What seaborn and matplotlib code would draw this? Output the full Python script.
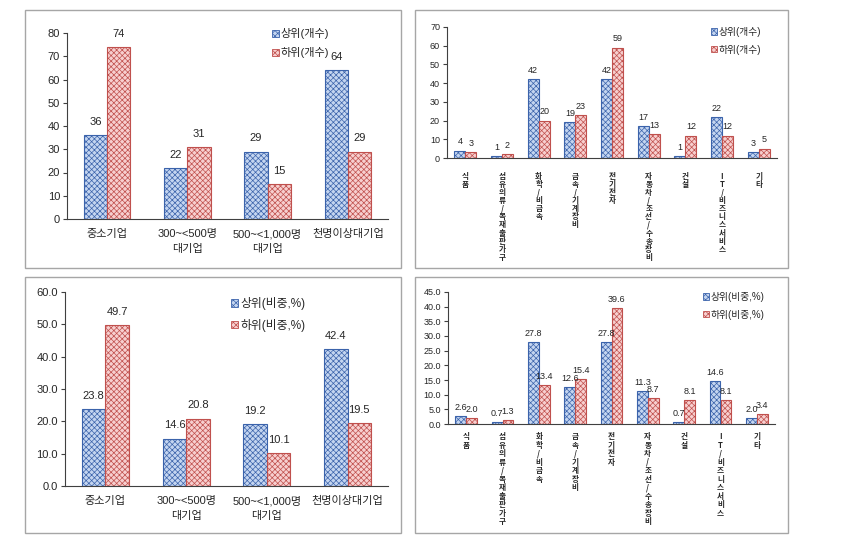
import matplotlib
matplotlib.use("Agg")
import numpy as np
import pandas as pd
import seaborn as sns
import matplotlib.pyplot as plt
from matplotlib.patches import Patch, Rectangle

# ---- data ----
size_groups = ["중소기업", "300~<500명\n대기업", "500~<1,000명\n대기업", "천명이상대기업"]
size_upper_cnt = [36, 22, 29, 64]
size_lower_cnt = [74, 31, 15, 29]
size_upper_pct = [23.8, 14.6, 19.2, 42.4]
size_lower_pct = [49.7, 20.8, 10.1, 19.5]

industries = ["식품", "섬유의류/목재출판가구", "화학/비금속", "금속/기계장비", "전기전자",
              "자동차/조선/수송장비", "건설", "IT/비즈니스서비스", "기타"]
ind_upper_cnt = [4, 1, 42, 19, 42, 17, 1, 22, 3]
ind_lower_cnt = [3, 2, 20, 23, 59, 13, 12, 12, 5]
ind_upper_pct = [2.6, 0.7, 27.8, 12.6, 27.8, 11.3, 0.7, 14.6, 2.0]
ind_lower_pct = [2.0, 1.3, 13.4, 15.4, 39.6, 8.7, 8.1, 8.1, 3.4]

cnt_labels = ["상위(개수)", "하위(개수)"]
pct_labels = ["상위(비중,%)", "하위(비중,%)"]

BLUE_FACE, BLUE_EDGE = "#C4D5F0", "#3B63AB"
RED_FACE, RED_EDGE = "#F7CFCF", "#C0504D"
HATCH = "xxxxxx"

sns.set_style("white")
plt.rcParams["font.family"] = ["Liberation Sans", "Noto Sans CJK KR", "DejaVu Sans"]
plt.rcParams["hatch.linewidth"] = 0.5

W, H = 844, 542
fig = plt.figure(figsize=(W / 100, H / 100), dpi=100)


def px_axes(x0, y0, x1, y1):
    return fig.add_axes([x0 / W, 1 - y1 / H, (x1 - x0) / W, (y1 - y0) / H])


def frame(x0, y0, x1, y1):
    fig.add_artist(Rectangle((x0 / W, 1 - y1 / H), (x1 - x0) / W, (y1 - y0) / H,
                             transform=fig.transFigure, fill=False,
                             edgecolor="#A6A6A6", lw=1.0))


def panel(ax, cats, upper, lower, names, ymax, ystep, fmt, fs, width, pad,
          leg_xy, leg_space, leg_fs, xfs, xpad, xspacing, xfamily):
    df = pd.DataFrame({
        "cat": cats * 2,
        "series": [names[0]] * len(cats) + [names[1]] * len(cats),
        "value": upper + lower,
    })
    sns.barplot(data=df, x="cat", y="value", hue="series", order=cats, hue_order=names,
                palette=[BLUE_FACE, RED_FACE], saturation=1, width=width,
                legend=False, ax=ax)
    for cont, edge, vals in zip(ax.containers, [BLUE_EDGE, RED_EDGE], [upper, lower]):
        for bar in cont:
            bar.set_edgecolor(edge)
            bar.set_hatch(HATCH)
            bar.set_linewidth(0.8)
        ax.bar_label(cont, labels=[fmt.format(v) for v in vals], padding=pad, fontsize=fs)

    n = len(cats)
    ax.set_xlim(-0.5, n - 0.5)
    ax.set_ylim(0, ymax)
    ticks = np.arange(0, ymax + ystep / 2, ystep)
    ax.set_yticks(ticks)
    ax.set_yticklabels([fmt.format(t) for t in ticks], fontsize=fs)
    ax.set_xticks(np.arange(-0.5, n, 1), minor=True)
    ax.tick_params(axis="x", which="major", length=0, labelsize=xfs, pad=xpad)
    ax.tick_params(axis="x", which="minor", length=4, direction="out", color="#404040", width=0.8)
    ax.tick_params(axis="y", length=3, direction="out", color="#404040", width=0.8, pad=2, left=True)
    for lab in ax.get_xticklabels():
        lab.set_linespacing(xspacing)
        if xfamily:
            lab.set_family(xfamily)
            lab.set_fontweight("bold")
    ax.set_xlabel("")
    ax.set_ylabel("")
    for s in ["top", "right"]:
        ax.spines[s].set_visible(False)
    for s in ["left", "bottom"]:
        ax.spines[s].set_color("#404040")
        ax.spines[s].set_linewidth(0.8)

    handles = [Patch(facecolor=BLUE_FACE, edgecolor=BLUE_EDGE, hatch=HATCH, lw=0.6),
               Patch(facecolor=RED_FACE, edgecolor=RED_EDGE, hatch=HATCH, lw=0.6)]
    ax.legend(handles, names, loc="upper left",
              bbox_to_anchor=(leg_xy[0] / W, 1 - leg_xy[1] / H),
              bbox_transform=fig.transFigure, frameon=False, fontsize=leg_fs,
              handlelength=0.6, handleheight=0.6, handletextpad=0.2,
              borderpad=0, borderaxespad=0, labelspacing=leg_space)


def stacked(labels):
    return ["\n".join(list(s)) for s in labels]


# panel frames
frame(25, 10, 401, 268)
frame(415, 10, 788, 268)
frame(25, 277, 401, 533)
frame(415, 277, 788, 533)

ax1 = px_axes(67, 33, 388, 219)
panel(ax1, size_groups, size_upper_cnt, size_lower_cnt, cnt_labels,
      80, 10, "{:.0f}", 8, 0.58, 6, (272, 28), 0.75, 8, 8, 7, 1.6, None)

ax2 = px_axes(447, 27, 777, 158)
panel(ax2, stacked(industries), ind_upper_cnt, ind_lower_cnt, cnt_labels,
      70, 10, "{:.0f}", 6.5, 0.6, 3, (711, 27), 0.8, 7, 5.5, 10, 0.87, "Noto Sans CJK KR")

ax3 = px_axes(65, 292, 388, 486)
panel(ax3, size_groups, size_upper_pct, size_lower_pct, pct_labels,
      60, 10, "{:.1f}", 8, 0.58, 6, (231, 297), 0.75, 8.5, 8, 7, 1.6, None)

ax4 = px_axes(448, 292, 775, 424)
panel(ax4, stacked(industries), ind_upper_pct, ind_lower_pct, pct_labels,
      45, 5, "{:.1f}", 6.5, 0.6, 3, (703, 292), 0.8, 7, 5.5, 6, 0.93, "Noto Sans CJK KR")

fig.savefig("out.png", dpi=100)
